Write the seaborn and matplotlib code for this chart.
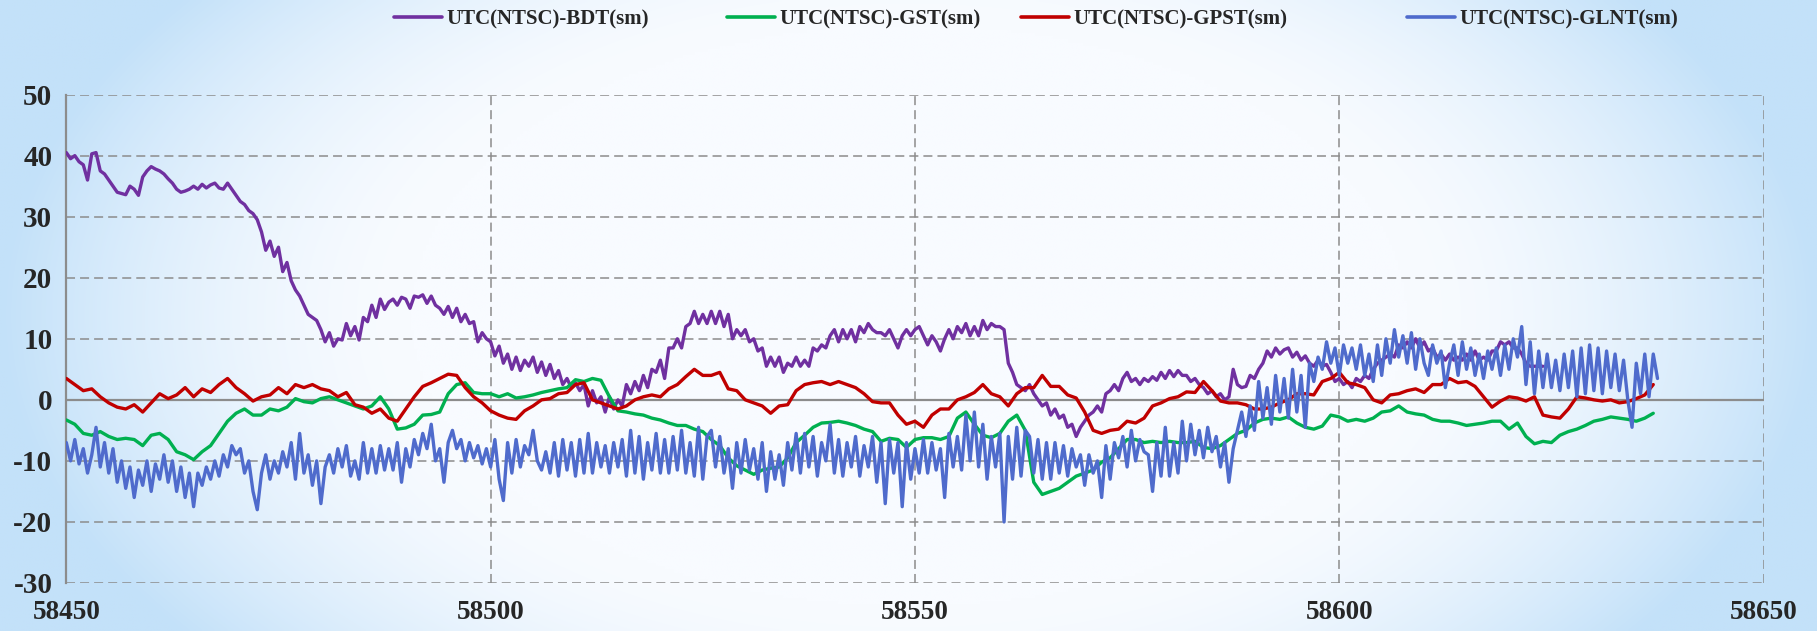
import numpy as np
import pandas as pd
import matplotlib
matplotlib.use("Agg")
import matplotlib.pyplot as plt
from matplotlib.lines import Line2D
from matplotlib.colors import to_rgb
import seaborn as sns

# MJD of first sample; BDT and GLNT read every half day, GST and GPST every day
mjd_start = 58450

# UTC(NTSC)-BDT(sm), ns, half-day samples
bdt = [
    40.5, 39.5, 40.0, 39.0, 38.5, 36.0, 40.3, 40.5, 37.5, 37.0, 36.0, 35.0, 34.0, 33.8, 33.6, 35.0, 34.5, 33.5, 36.5, 37.5,
    38.2, 37.8, 37.5, 37.0, 36.2, 35.5, 34.5, 34.0, 34.2, 34.5, 35.0, 34.5, 35.3, 34.7, 35.2, 35.5, 34.7, 34.5, 35.5, 34.5,
    33.5, 32.5, 32.0, 31.0, 30.5, 29.5, 27.5, 24.5, 26.0, 23.5, 25.0, 21.0, 22.5, 19.5, 18.0, 17.0, 15.5, 14.0, 13.5, 13.0,
    11.5, 9.5, 11.0, 8.8, 10.0, 9.8, 12.5, 10.5, 12.0, 9.8, 13.5, 12.8, 15.5, 13.5, 16.5, 14.8, 16.0, 16.5, 15.5, 16.8,
    16.5, 15.0, 17.0, 16.8, 17.2, 15.8, 17.0, 15.5, 15.0, 14.0, 15.3, 13.5, 15.0, 12.8, 14.0, 12.5, 12.8, 9.5, 11.0, 10.0,
    9.5, 7.2, 8.8, 6.0, 7.5, 5.0, 7.0, 4.8, 6.5, 5.5, 7.0, 4.5, 6.2, 4.0, 5.8, 3.5, 4.8, 2.5, 3.5, 2.0,
    2.8, 1.5, 2.5, -1.0, 1.5, -0.5, 0.5, -2.0, 0.5, -1.5, 0.0, -1.0, 2.5, 1.0, 3.0, 1.5, 4.0, 2.0, 5.0, 4.5,
    6.5, 3.5, 8.5, 8.5, 10.0, 8.5, 12.0, 12.5, 14.5, 12.5, 14.0, 12.5, 14.5, 12.5, 14.5, 12.0, 14.0, 10.0, 11.5, 10.5,
    11.5, 9.5, 10.0, 8.0, 8.5, 5.5, 7.0, 5.5, 7.0, 4.5, 6.0, 5.5, 7.0, 5.5, 6.5, 5.5, 8.5, 8.0, 9.0, 8.5,
    10.5, 11.5, 9.5, 11.5, 10.0, 11.5, 9.5, 12.0, 11.0, 12.5, 11.5, 11.0, 11.0, 10.5, 11.5, 10.0, 8.5, 10.5, 11.5, 10.5,
    11.5, 12.0, 10.5, 9.0, 10.5, 9.5, 8.0, 10.0, 11.5, 10.0, 12.0, 11.0, 12.5, 10.5, 12.0, 10.5, 13.0, 11.5, 12.5, 12.0,
    12.0, 11.5, 6.0, 4.5, 2.5, 2.0, 1.5, 2.5, 1.0, 0.0, -1.0, -0.5, -2.5, -1.5, -3.0, -2.5, -4.5, -4.0, -6.0, -4.5,
    -3.5, -2.5, -2.0, -1.0, -2.0, 1.0, 1.5, 2.5, 1.5, 3.5, 4.5, 3.0, 3.5, 2.5, 3.5, 3.0, 3.8, 3.2, 4.5, 3.5,
    4.8, 3.8, 4.8, 4.0, 4.0, 3.0, 3.5, 2.5, 2.0, 1.0, 1.5, 0.5, 1.0, 0.0, 0.5, 5.0, 2.5, 2.0, 2.2, 4.0,
    3.5, 5.0, 6.0, 8.0, 7.0, 8.5, 7.5, 8.2, 8.5, 7.0, 7.8, 6.5, 7.2, 6.0, 5.5, 6.5, 5.5, 5.8, 4.5, 3.0,
    3.5, 2.5, 3.0, 2.0, 3.5, 3.0, 4.0, 3.5, 5.0, 6.0, 6.5, 7.0, 7.5, 7.0, 9.0, 8.5, 9.5, 8.5, 10.0, 8.5,
    9.5, 8.0, 8.5, 7.0, 7.5, 6.5, 7.5, 6.5, 7.0, 6.5, 7.5, 6.5, 8.0, 6.5, 7.0, 6.5, 8.0, 8.0, 9.5, 9.0,
    9.5, 8.5, 8.5, 7.5, 6.0, 5.5, 5.5, 5.5, 5.5,
]

# UTC(NTSC)-GST(sm), ns, daily
gst = [
    -3.3, -4.0, -5.5, -5.8, -5.2, -6.0, -6.5, -6.3, -6.5, -7.5,
    -5.8, -5.5, -6.5, -8.5, -9.0, -9.8, -8.5, -7.5, -5.5, -3.5,
    -2.2, -1.5, -2.5, -2.5, -1.5, -1.8, -1.2, 0.2, -0.3, -0.5,
    0.2, 0.5, 0.0, -0.5, -1.0, -1.5, -1.0, 0.5, -1.5, -4.8,
    -4.6, -4.0, -2.5, -2.4, -2.0, 1.0, 2.5, 2.8, 1.2, 1.0,
    1.0, 0.5, 1.0, 0.3, 0.5, 0.8, 1.2, 1.5, 1.8, 2.0,
    3.3, 3.0, 3.5, 3.2, 0.5, -1.8, -2.0, -2.3, -2.5, -3.0,
    -3.3, -3.8, -4.2, -4.2, -4.8, -5.2, -6.5, -7.5, -9.5, -10.8,
    -11.5, -12.2, -11.5, -11.2, -11.0, -9.5, -7.0, -5.8, -4.5, -3.8,
    -3.7, -3.5, -3.8, -4.2, -4.8, -5.2, -6.8, -6.3, -6.5, -7.8,
    -6.5, -6.2, -6.2, -6.5, -6.0, -3.0, -2.0, -4.0, -5.8, -6.2,
    -5.5, -3.5, -2.5, -5.0, -13.5, -15.5, -15.0, -14.5, -13.5, -12.5,
    -12.0, -11.5, -10.2, -9.5, -8.0, -6.5, -6.5, -7.0, -6.8, -7.0,
    -6.8, -7.0, -7.0, -6.8, -7.8, -8.0, -7.5, -6.5, -5.5, -5.0,
    -3.8, -3.2, -3.0, -3.2, -2.8, -3.8, -4.5, -4.8, -4.3, -2.5,
    -2.8, -3.5, -3.2, -3.5, -3.0, -2.0, -1.8, -1.0, -2.0, -2.3,
    -2.5, -3.2, -3.5, -3.5, -3.8, -4.2, -4.0, -3.8, -3.5, -3.5,
    -4.8, -3.8, -6.0, -7.2, -6.8, -7.0, -5.8, -5.2, -4.8, -4.2,
    -3.5, -3.2, -2.8, -3.0, -3.2, -3.5, -3.0, -2.2,
]

# UTC(NTSC)-GPST(sm), ns, daily
gpst = [
    3.5, 2.5, 1.5, 1.8, 0.5, -0.5, -1.2, -1.5, -0.8, -2.0,
    -0.5, 1.0, 0.2, 0.8, 2.0, 0.5, 1.8, 1.2, 2.5, 3.5,
    2.0, 1.0, -0.2, 0.5, 0.8, 2.0, 1.0, 2.5, 2.0, 2.5,
    1.8, 1.5, 0.5, 1.2, -0.8, -1.2, -2.2, -1.5, -3.0, -3.5,
    -1.5, 0.5, 2.2, 2.8, 3.5, 4.2, 4.0, 2.0, 0.5, -0.5,
    -1.8, -2.5, -3.0, -3.2, -1.8, -1.0, 0.0, 0.2, 1.0, 1.2,
    2.5, 2.8, 0.0, -0.5, -1.0, -1.5, -1.0, 0.0, 0.5, 0.8,
    0.5, 1.8, 2.5, 3.8, 5.0, 4.0, 4.0, 4.5, 1.8, 1.5,
    0.0, -0.5, -1.0, -2.2, -1.0, -0.8, 1.5, 2.5, 2.8, 3.0,
    2.5, 3.0, 2.5, 2.0, 1.0, -0.3, -0.5, -0.5, -2.5, -4.0,
    -3.5, -4.5, -2.5, -1.5, -1.5, 0.0, 0.5, 1.2, 2.5, 1.0,
    0.5, -1.0, 1.0, 2.0, 2.0, 4.0, 2.2, 2.2, 0.8, 0.3,
    -2.0, -5.0, -5.5, -5.0, -4.8, -3.5, -3.8, -3.0, -1.0, -0.5,
    0.2, 0.5, 1.3, 1.2, 3.0, 1.5, -0.2, -0.5, -0.5, -0.8,
    -1.5, -1.5, -1.2, -0.5, 0.0, 1.0, 1.0, 0.8, 3.0, 3.5,
    4.5, 2.8, 2.5, 2.0, 0.0, -0.5, 0.8, 1.0, 1.5, 1.8,
    1.2, 2.5, 2.5, 3.5, 2.8, 3.0, 2.2, 0.5, -1.2, -0.2,
    0.5, 0.3, -0.2, 0.5, -2.5, -2.8, -3.0, -1.5, 0.5, 0.3,
    0.0, -0.2, 0.0, -0.5, -0.3, 0.2, 0.8, 2.5,
]

# UTC(NTSC)-GLNT(sm), ns, half-day samples
glnt = [
    -7, -10, -6.5, -10.5, -8, -12, -9, -4.5, -11, -7, -12, -8, -13.5, -10, -14.5, -11, -16, -11.5, -14, -10,
    -15, -10.5, -13, -9, -13.5, -10, -15, -11, -16, -12, -17.5, -12, -14, -11, -13, -10, -12.5, -9, -11, -7.5,
    -9, -8, -12, -10, -15, -18, -12, -9, -13, -10, -12, -8.5, -11, -7, -13, -5.5, -12, -9, -14, -10,
    -17, -11, -9, -12, -8, -11, -7.5, -12.5, -10, -13, -7, -12, -8, -12, -7.5, -11.5, -8, -11.5, -7, -13.5,
    -8, -11, -6.5, -9, -5.5, -8, -4, -10, -8, -13.5, -7, -5, -8, -6.5, -10, -7, -9.5, -7.5, -10.5, -8,
    -11, -6.5, -13, -16.5, -7, -12, -6.5, -11, -7.5, -9, -5, -10, -11.5, -8.5, -12, -7, -12.5, -6.5, -11.5, -7,
    -12.5, -6.5, -12, -5.5, -12, -7, -11, -7.5, -12, -7, -11, -6.5, -12.5, -5, -12, -6, -13, -7, -11.5, -5.5,
    -12, -6.5, -12, -6, -11.5, -5, -12, -7, -12.5, -4.5, -13, -6, -5, -11, -6, -12, -8, -14.5, -7, -12,
    -6.5, -11.5, -8, -13, -7, -15, -8.5, -13, -9, -14, -7, -11.5, -5.5, -12, -5.5, -11, -6, -12.5, -7, -10,
    -4, -12, -6.5, -12.5, -7, -11, -6, -12.5, -7.5, -11, -6, -13.5, -7, -17, -6.5, -12, -7, -17.5, -7, -13,
    -8, -12, -6.5, -12, -7, -11.5, -8, -16, -5.5, -11, -6, -11.5, -2.5, -10, -2, -11, -4, -13, -6, -11,
    -5.5, -20, -6, -13, -4.5, -12.5, -5, -6, -12, -6.5, -13, -7, -13, -7, -12, -7.5, -12.5, -8, -11, -9,
    -14, -9, -12, -10, -16, -7.5, -13, -7, -9.5, -6, -11, -5, -10, -6.5, -8.5, -9, -15, -7, -12.5, -4.5,
    -12.5, -7, -12, -3.5, -10, -4, -9, -5, -9.5, -4.5, -8.5, -6, -11, -7, -13.5, -8, -5, -2, -6, -1,
    -5, 3, -3, 2, -4, 4, -2, 3.5, -3, 5, -2, 4, -4.5, 6, 3, 7, 5, 9.5, 6, 8.5,
    4, 9, 6, 8.5, 5, 9, 4, 7.5, 3, 9, 4, 10, 6, 11.5, 7, 10.5, 6, 11, 5, 10,
    6, 4, 9, 6, 8, 2, 6, 9, 4, 9.5, 5, 8.5, 4, 7.5, 3.5, 8, 5, 8.5, 4, 9,
    5, 10, 7, 12, 2.5, 9.5, 1, 8, 2, 7.5, 2, 6.5, 1.5, 7.5, 2, 8, 0.5, 8.5, 1, 9,
    1.5, 8.5, 1, 8, 2, 7.5, 1.5, 6.5, 0, -4.5, 6, 1, 7.5, 0.5, 7.5, 3.5,
]

names = ["UTC(NTSC)-BDT(sm)", "UTC(NTSC)-GST(sm)", "UTC(NTSC)-GPST(sm)", "UTC(NTSC)-GLNT(sm)"]
colors = ["#7030A0", "#00B050", "#C00000", "#4F6BCC"]
x_ticks = [58450, 58500, 58550, 58600, 58650]
y_ticks = [-30, -20, -10, 0, 10, 20, 30, 40, 50]


def frame(vals, step, name):
    return pd.DataFrame({"MJD": mjd_start + step * np.arange(len(vals)),
                         "ns": vals, "series": name})


df = pd.concat([frame(bdt, 0.5, names[0]), frame(gst, 1.0, names[1]),
                frame(gpst, 1.0, names[2]), frame(glnt, 0.5, names[3])],
               ignore_index=True)

sns.set_style("white")
plt.rcParams["font.family"] = ["Liberation Serif", "DejaVu Serif"]
plt.rcParams["font.weight"] = "bold"
plt.rcParams["axes.unicode_minus"] = False

fig = plt.figure(figsize=(18.17, 6.31), dpi=100)

# light blue background, whiter in the middle
bg = fig.add_axes([0, 0, 1, 1], zorder=-10)
gx, gy = np.meshgrid(np.linspace(-1, 1, 600), np.linspace(-1, 1, 200))
r = np.sqrt(gx ** 2 + 0.35 * gy ** 2)
w = np.clip((r - 0.55) / 0.45, 0, 1) ** 1.6
edge = np.array(to_rgb("#c3e1f9"))
centre = np.array(to_rgb("#f8fbff"))
bg.imshow(centre + (edge - centre) * w[..., None], aspect="auto",
          extent=[0, 1, 0, 1], interpolation="bilinear")
bg.axis("off")

ax = fig.add_axes([0.0365, 0.0761, 0.9341, 0.774])
ax.patch.set_alpha(0)

for name, col in zip(names, colors):
    sns.lineplot(data=df[df["series"] == name], x="MJD", y="ns", color=col,
                 lw=2.4, ax=ax, legend=False, zorder=3)

ax.set_xlim(58450, 58650)
ax.set_ylim(-30, 50)
ax.set_xticks(x_ticks)
ax.set_yticks(y_ticks)
ax.set_xlabel("")
ax.set_ylabel("")
ax.grid(True, ls=(0, (5.9, 3.3)), color="#8c8c8c", lw=1.1)
ax.axhline(0, color="#8c8c8c", lw=1.6, zorder=2)

for side in ["top", "right", "bottom"]:
    ax.spines[side].set_visible(False)
ax.spines["left"].set_color("#8c8c8c")
ax.spines["left"].set_linewidth(1.6)

ax.tick_params(axis="y", direction="out", length=6, width=1.2, color="#8c8c8c",
               pad=4, labelsize=21)
ax.tick_params(axis="x", length=0, pad=12, labelsize=19.5)
for lab in ax.get_xticklabels() + ax.get_yticklabels():
    lab.set_fontweight("bold")

# legend entries sit at uneven spacing along the top
leg_x = [394, 727, 1021, 1407]
for name, col, xp in zip(names, colors, leg_x):
    fig.legend(handles=[Line2D([], [], color=col, lw=2.6)], labels=[name],
               loc="center left", bbox_to_anchor=(xp / 1817, 0.969),
               frameon=False, borderpad=0, borderaxespad=0,
               handlelength=2.3, handletextpad=0.2,
               prop={"weight": "bold", "size": 15})

fig.savefig("out.png", dpi=100)
